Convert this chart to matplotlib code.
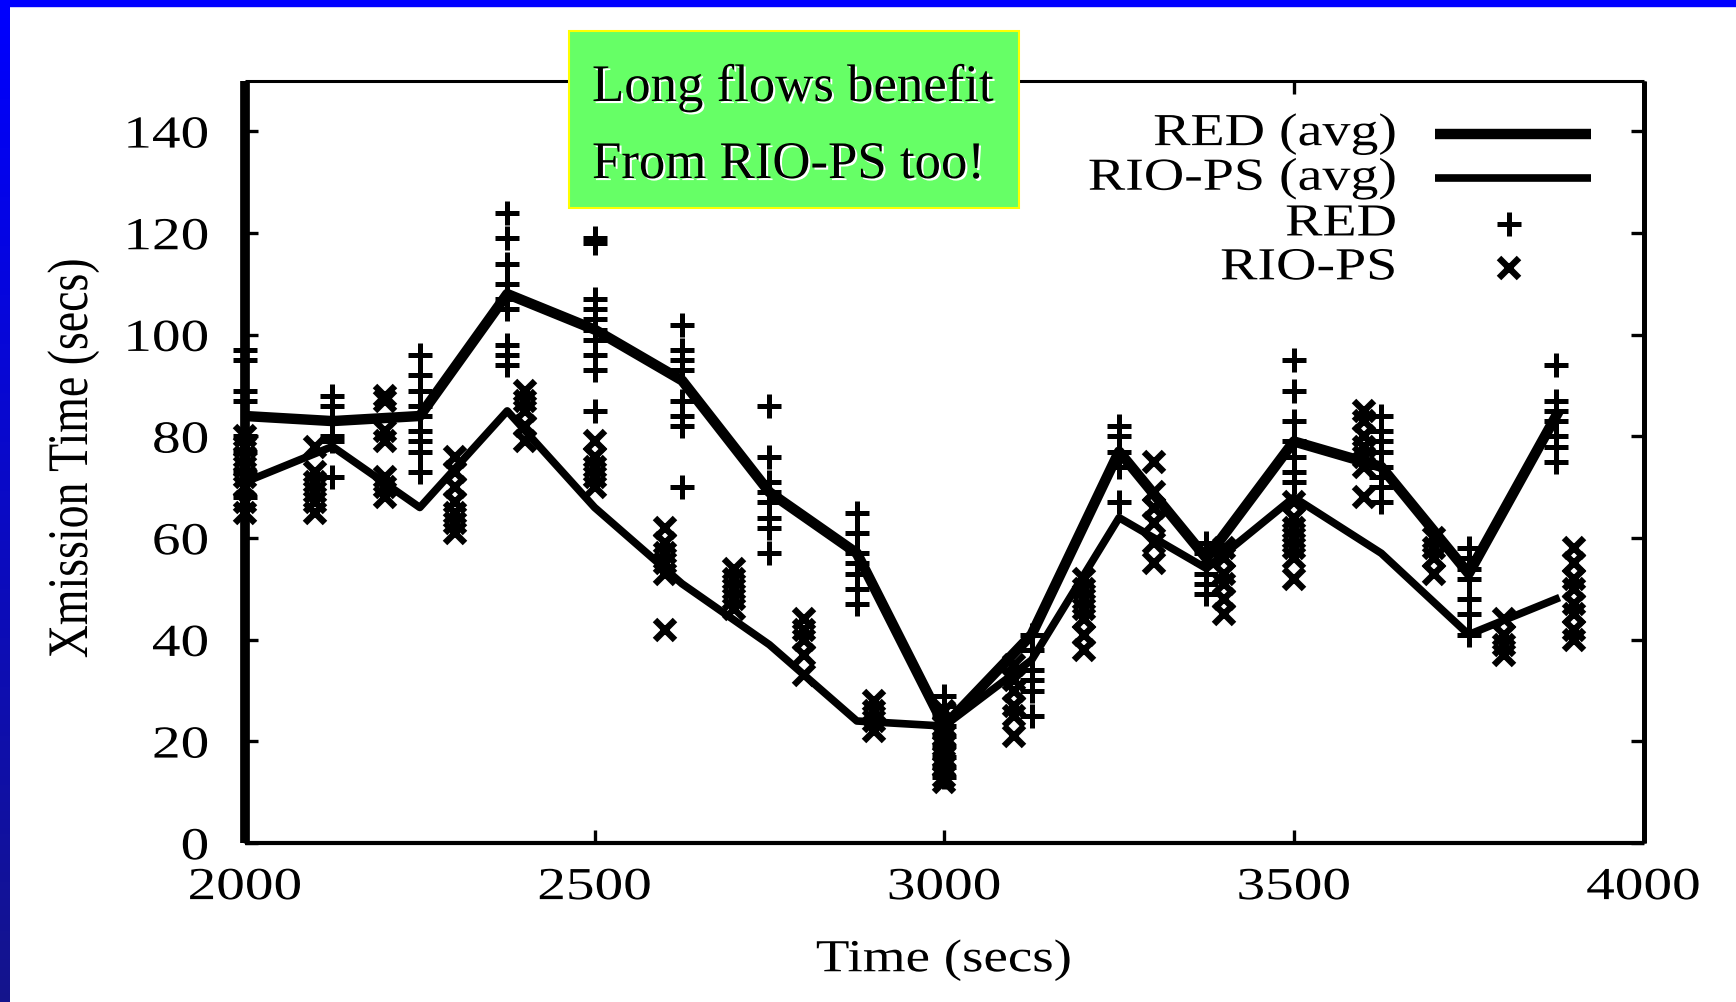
import matplotlib
matplotlib.use("Agg")
import matplotlib.pyplot as plt
import matplotlib.patheffects as pe
from matplotlib.transforms import Affine2D
from matplotlib.patches import Rectangle
import numpy as np

# time axis of the averaged curves and of the RED samples (every 125 s)
red_t = [2000, 2125, 2250, 2375, 2500, 2625, 2750, 2875,
         3000, 3125, 3250, 3375, 3500, 3625, 3750, 3875]
red_avg = [84, 83, 84, 108, 101, 91, 69, 57, 23, 41, 77, 56, 79, 74, 53, 84]
rio_avg = [71, 78, 66, 85, 66, 51, 39, 24, 23, 36, 64, 54, 68, 57, 41, 48]

# individual RED samples, one list per entry of red_t
red_samples = [
    [97, 95, 89, 87, 80, 77, 73, 68],
    [88, 86, 83, 80, 79, 72],
    [96, 92, 89, 86, 84, 81, 79, 77, 73],
    [124, 119, 114, 110, 107, 105, 98, 96, 94],
    [119, 118, 107, 105, 103, 101, 99, 96, 93, 85],
    [102, 97, 95, 93, 87, 84, 82, 70],
    [86, 76, 71, 69, 67, 64, 62, 57],
    [65, 61, 57, 55, 53, 50, 47],
    [29, 27, 25, 23, 21, 19, 17, 15, 13],
    [41, 38, 34, 32, 30, 25],
    [82, 80, 77, 74, 67],
    [59, 57, 55, 53, 51, 49],
    [95, 89, 83, 79, 76, 73, 71],
    [84, 81, 79, 77, 74, 72, 70, 67],
    [58, 56, 54, 52, 48, 45, 41],
    [94, 87, 85, 83, 80, 78, 75],
]

# RIO-PS samples (every 100 s)
rio_t = [2000, 2100, 2200, 2300, 2400, 2500, 2600, 2700, 2800, 2900,
         3000, 3100, 3200, 3300, 3400, 3500, 3600, 3700, 3800, 3900]
rio_samples = [
    [80, 78, 76, 74, 72, 70, 67, 65],
    [78, 73, 71, 69, 67, 65],
    [88, 87, 81, 79, 72, 70, 68],
    [76, 73, 70, 67, 65, 63, 61],
    [89, 87, 85, 82, 79],
    [79, 76, 74, 72, 70],
    [62, 59, 57, 55, 53, 42],
    [54, 52, 50, 48, 46],
    [44, 42, 40, 37, 33],
    [28, 26, 24, 22],
    [26, 23, 21, 19, 17, 15, 13, 12],
    [35, 32, 30, 27, 25, 21],
    [52, 50, 48, 46, 44, 41, 38],
    [75, 69, 66, 63, 59, 55],
    [58, 56, 53, 51, 48, 45],
    [67, 64, 62, 60, 58, 56, 52],
    [85, 83, 80, 78, 76, 74, 68],
    [60, 58, 56, 53],
    [44, 41, 39, 37],
    [58, 55, 52, 50, 47, 45, 42, 40],
]

x_ticks = [2000, 2500, 3000, 3500, 4000]
y_ticks = [0, 20, 40, 60, 80, 100, 120, 140]
legend_labels = ["RED (avg)", "RIO-PS (avg)", "RED", "RIO-PS"]


class HStretch(pe.AbstractPathEffect):
    # the gnuplot picture was resized wider than tall, so stretch text in x
    def __init__(self, sx=1.22, anchor="center"):
        super().__init__()
        self.sx = sx
        self.anchor = anchor

    def draw_path(self, renderer, gc, tpath, affine, rgbFace=None):
        bb = tpath.get_extents(affine)
        if self.anchor == "left":
            cx = bb.x0
        elif self.anchor == "right":
            cx = bb.x1
        else:
            cx = (bb.x0 + bb.x1) / 2
        st = Affine2D().translate(-cx, 0).scale(self.sx, 1).translate(cx, 0)
        renderer.draw_path(gc, tpath, affine + st, rgbFace)


FONT = "Liberation Serif"
FS = 33

fig = plt.figure(figsize=(17.36, 10.03), dpi=100)
ax = fig.add_axes([245 / 1736, 1 - 844 / 1003, 1398.5 / 1736, 762.5 / 1003])

ax.plot(red_t, red_avg, color="black", lw=7.5, zorder=2)
ax.plot(red_t, rio_avg, color="black", lw=5.5, zorder=2)

plus_style = dict(marker="+", ms=17, mew=3.6)
cross_style = dict(marker="x", ms=15, mew=4.6)

rx = [t for t, s in zip(red_t, red_samples) for _ in s]
ry = [v for s in red_samples for v in s]
ax.plot(rx, ry, ls="none", color="black", clip_on=False, zorder=3,
        **plus_style)
ix = [t for t, s in zip(rio_t, rio_samples) for _ in s]
iy = [v for s in rio_samples for v in s]
ax.plot(ix, iy, ls="none", color="black", clip_on=False, zorder=3,
        **cross_style)

ax.set_xlim(2000, 4000)
ax.set_ylim(0, 150)
ax.set_xticks(x_ticks)
ax.set_yticks(y_ticks)
ax.tick_params(direction="in", length=9.4, width=2.4, top=True, right=True,
               labelsize=FS)
ax.tick_params(axis="x", pad=17)
ax.tick_params(axis="y", pad=26)
for lbl in ax.get_xticklabels():
    lbl.set_fontfamily(FONT)
    lbl.set_path_effects([HStretch(1.25, "center")])
for lbl in ax.get_yticklabels():
    lbl.set_fontfamily(FONT)
    lbl.set_path_effects([HStretch(1.25, "right")])

for side, w in [("left", 7), ("bottom", 3), ("right", 3.6), ("top", 2.2)]:
    ax.spines[side].set_linewidth(w)
    ax.spines[side].set_capstyle("butt")

# gnuplot style key: text right aligned, sample to the right
rows = [0.9300, 0.8715, 0.8115, 0.7540]
styles = [dict(lw=7.5), dict(lw=5.5), plus_style, cross_style]
for y, lab, st in zip(rows, legend_labels, styles):
    ax.text(0.8237, y, lab, transform=ax.transAxes, ha="right", va="center",
            fontsize=FS, family=FONT, path_effects=[HStretch(1.22, "right")])
    if "marker" in st:
        ax.plot([0.904], [y], transform=ax.transAxes, ls="none",
                color="black", clip_on=False, **st)
    else:
        ax.plot([0.851, 0.9625], [y, y], transform=ax.transAxes,
                color="black", solid_capstyle="butt", clip_on=False, **st)

fig.text(944 / 1736, 1 - 961 / 1003, "Time (secs)", ha="center", va="center",
         fontsize=FS, family=FONT, path_effects=[HStretch(1.2, "center")])
fig.text(73 / 1736, 1 - 459 / 1003, "Xmission Time (secs)", rotation=90,
         ha="center", va="center", fontsize=FS, family=FONT,
         path_effects=[HStretch(1.25, "center")])

# green call-out box on top of the plot frame
fig.patches.append(Rectangle((569 / 1736, 1 - 209 / 1003), 450 / 1736,
                             177 / 1003, transform=fig.transFigure,
                             facecolor="#66ff66", edgecolor="#ffff00",
                             lw=1.5, zorder=5))
shadow = [pe.SimplePatchShadow(offset=(1.5, -1.5), shadow_rgbFace="white",
                               alpha=1.0), pe.Normal()]
fig.text(592 / 1736, 1 - 102 / 1003, "Long flows benefit", ha="left",
         va="baseline", fontsize=38, family=FONT, zorder=6,
         path_effects=shadow)
fig.text(592 / 1736, 1 - 179 / 1003, "From RIO-PS too!", ha="left",
         va="baseline", fontsize=38, family=FONT, zorder=6,
         path_effects=shadow)

# slide frame: blue bar on top, shaded blue bar on the left
fig.patches.append(Rectangle((0, 1 - 7 / 1003), 1, 7 / 1003,
                             transform=fig.transFigure, color="#0000ff",
                             zorder=7))
bar = fig.add_axes([0, 0, 10 / 1736, 1])
grad = np.linspace(0, 1, 256)[:, None]
cols = np.zeros((256, 1, 3))
cols[:, 0, 0] = 0.08 * grad[:, 0]
cols[:, 0, 1] = 0.08 * grad[:, 0]
cols[:, 0, 2] = 1.0 - 0.45 * grad[:, 0]
bar.imshow(cols, aspect="auto", interpolation="bilinear")
bar.set_axis_off()

fig.savefig("out.png", dpi=100)
